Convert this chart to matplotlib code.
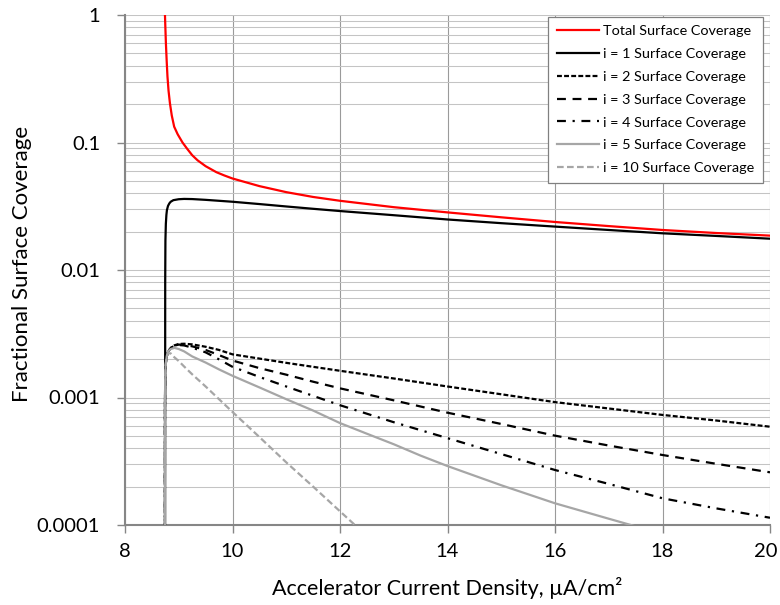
import matplotlib
matplotlib.use("Agg")
import matplotlib.pyplot as plt
import matplotlib.transforms as mtransforms
from matplotlib.ticker import FixedLocator, FixedFormatter, LogLocator, NullFormatter

plt.rcParams['font.family'] = ['Lato', 'DejaVu Sans']

# ---- data ----
x_total = [8.742, 8.75, 8.761, 8.775, 8.79, 8.81, 8.836, 8.87, 8.915, 8.98, 9.07, 9.15,
           9.25, 9.35, 9.5, 9.7, 9.85, 10.0, 10.5, 11.0, 11.5, 12.0, 13.0, 14.0, 15.0, 16.0,
           17.0, 18.0, 19.0, 20.0]
y_total = [1.05, 0.82, 0.60, 0.44, 0.33, 0.255, 0.203, 0.163, 0.133, 0.116, 0.100, 0.090,
           0.0795, 0.0725, 0.0652, 0.0585, 0.0551, 0.0522, 0.0455, 0.0408, 0.0374, 0.0349,
           0.0311, 0.0283, 0.0259, 0.0238, 0.0221, 0.0206, 0.0195, 0.0186]

x_i1 = [8.745, 8.748, 8.752, 8.76, 8.77, 8.78, 8.8, 8.825, 8.85, 8.9, 9.0, 9.1, 9.25, 9.5,
        10.0, 10.5, 11.0, 11.5, 12.0, 13.0, 14.0, 15.0, 16.0, 17.0, 18.0, 19.0, 20.0]
y_i1 = [0.00001, 0.008, 0.017, 0.023, 0.027, 0.0295, 0.0318, 0.0333, 0.0343, 0.0353, 0.0359,
        0.0361, 0.036, 0.0355, 0.0343, 0.0329, 0.0315, 0.0302, 0.029, 0.0269, 0.0249, 0.0233,
        0.0219, 0.0206, 0.0194, 0.0185, 0.0176]

x_mid = [8.74, 8.743, 8.748, 8.756, 8.776, 8.8, 8.85, 8.9, 9.0, 9.1, 9.25, 9.5, 9.75, 10.0,
         10.5, 11.0, 11.5, 12.0, 13.0, 14.0, 15.0, 16.0, 17.0, 18.0, 19.0, 20.0]
y_i2 = [0.00001, 0.0008, 0.0014, 0.0018, 0.0021, 0.00228, 0.00245, 0.00255, 0.00263, 0.00264,
        0.00261, 0.0025, 0.00236, 0.00218, 0.00202, 0.00187, 0.00174, 0.00162, 0.00141,
        0.00122, 0.00106, 0.00092, 0.00082, 0.00073, 0.00066, 0.00059]
y_i3 = [0.00001, 0.0008, 0.0014, 0.0018, 0.0021, 0.00228, 0.00245, 0.00254, 0.0026, 0.00259,
        0.00252, 0.00236, 0.00215, 0.00195, 0.0017, 0.00151, 0.00133, 0.00118, 0.00095,
        0.00076, 0.00062, 0.000502, 0.00042, 0.000354, 0.000302, 0.000259]
y_i4 = [0.00001, 0.0008, 0.0014, 0.0018, 0.0021, 0.00228, 0.00244, 0.00252, 0.00258, 0.00256,
        0.00246, 0.00226, 0.00199, 0.00174, 0.00145, 0.00122, 0.00103, 0.00087, 0.00064,
        0.00048, 0.00036, 0.00027, 0.00021, 0.000162, 0.000135, 0.000114]

x_i5 = [8.74, 8.743, 8.748, 8.756, 8.776, 8.8, 8.85, 8.92, 9.0, 9.1, 9.25, 9.5, 9.75, 10.0,
        10.5, 11.0, 11.5, 12.0, 12.5, 13.0, 13.5, 14.0, 15.0, 16.0, 17.0, 18.0]
y_i5 = [0.00001, 0.0008, 0.0014, 0.0018, 0.0021, 0.0023, 0.0024, 0.00245, 0.0024, 0.0023,
        0.0021, 0.00188, 0.00166, 0.00148, 0.0012, 0.00097, 0.00079, 0.00063, 0.00052,
        0.00043, 0.00035, 0.00029, 0.000205, 0.000148, 0.000112, 0.000085]

x_i10 = [8.74, 8.743, 8.748, 8.756, 8.776, 8.8, 8.85, 8.9, 9.0, 9.1, 9.25, 9.5, 10.0, 10.5,
         11.0, 11.5, 12.0, 12.5]
y_i10 = [0.00001, 0.0008, 0.0014, 0.0018, 0.0021, 0.00222, 0.00222, 0.0021, 0.00193, 0.00175,
         0.00152, 0.00122, 0.00077, 0.00049, 0.00031, 0.0002, 0.000128, 0.000082]

x_ticks = [8, 10, 12, 14, 16, 18, 20]
y_ticks = [0.0001, 0.001, 0.01, 0.1, 1]
y_tick_labels = ["0.0001", "0.001", "0.01", "0.1", "1"]

labels = ["Total Surface Coverage", "i = 1 Surface Coverage", "i = 2 Surface Coverage",
          "i = 3 Surface Coverage", "i = 4 Surface Coverage", "i = 5 Surface Coverage",
          "i = 10 Surface Coverage"]

# ---- figure ----
W, H = 780, 605
fig = plt.figure(figsize=(W / 100, H / 100), dpi=100)
ax = fig.add_axes([125 / W, (H - 525) / H, 645 / W, 510 / H])

lw = 1.6
ax.plot(x_total, y_total, color='#ff0000', lw=lw, label=labels[0], zorder=3)
ax.plot(x_i1, y_i1, color='#000000', lw=lw, label=labels[1], zorder=3)
ax.plot(x_mid, y_i2, color='#000000', lw=lw, ls=(0, (2.2, 1.0)), label=labels[2], zorder=3)
ax.plot(x_mid, y_i3, color='#000000', lw=lw, ls=(0, (4, 3)), label=labels[3], zorder=3)
ax.plot(x_mid, y_i4, color='#000000', lw=lw, ls=(0, (4, 3, 1, 3)), label=labels[4], zorder=3)
ax.plot(x_i5, y_i5, color='#a6a6a6', lw=lw, label=labels[5], zorder=3)
ax.plot(x_i10, y_i10, color='#a6a6a6', lw=lw, ls=(0, (3, 1.5)), label=labels[6], zorder=3)

ax.set_yscale('log')
ax.set_xlim(8, 20)
ax.set_ylim(0.0001, 1)

ax.xaxis.set_major_locator(FixedLocator(x_ticks))
ax.yaxis.set_major_locator(FixedLocator(y_ticks))
ax.yaxis.set_major_formatter(FixedFormatter(y_tick_labels))
ax.yaxis.set_minor_locator(LogLocator(base=10, subs=[2, 3, 4, 5, 6, 7, 8, 9], numticks=20))
ax.yaxis.set_minor_formatter(NullFormatter())

ax.grid(True, axis='x', which='major', color='#9a9a9a', lw=0.8, zorder=0)
ax.grid(True, axis='y', which='both', color='#c4c4c4', lw=0.75, zorder=0)
ax.set_axisbelow(True)

for s in ['top', 'right']:
    ax.spines[s].set_visible(False)
for s in ['left', 'bottom']:
    ax.spines[s].set_color('#868686')
    ax.spines[s].set_linewidth(1.5)

ax.tick_params(axis='both', which='major', direction='out', length=6, width=1,
               color='#868686', labelsize=14.5, labelcolor='#000000')
ax.tick_params(axis='y', which='major', pad=12)
ax.tick_params(axis='x', which='major', pad=7)
ax.tick_params(axis='y', which='minor', length=0)

leg = ax.legend(loc='upper right', bbox_to_anchor=(0.989, 0.997), fontsize=10.4,
                frameon=True, fancybox=False, edgecolor='#808080', framealpha=1,
                handlelength=2.9, handletextpad=0.3, labelspacing=0.74,
                borderpad=0.6, borderaxespad=0)
leg.get_frame().set_linewidth(0.9)

fig.text(447.5 / W, 1 - 588 / H, "Accelerator Current Density, µA/cm²", fontsize=15.5,
         ha='center', va='center')
fig.text(22 / W, 1 - 264 / H, "Fractional Surface Coverage", fontsize=16,
         ha='center', va='center', rotation=90)

# keep the last x tick label inside the canvas
fig.canvas.draw()
last = ax.xaxis.get_major_ticks()[-1].label1
last.set_transform(last.get_transform() +
                   mtransforms.ScaledTranslation(-0.04, 0, fig.dpi_scale_trans))

fig.savefig("out.png", dpi=100)
